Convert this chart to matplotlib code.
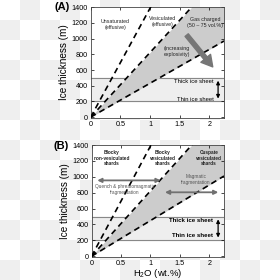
"""Ice thickness vs. magma H2O content, panels A and B"""
import numpy as np
import matplotlib
matplotlib.use("Agg")
from matplotlib import pyplot as plt

# data
x_ends = [0, 2.25]
unsat_y = [0, 3120]      # upper dashed line (unsaturated / vesiculated boundary)
vesic_y = [0, 1850]      # middle dashed line
gas_y_a = [0, 970]       # lower dashed line, panel A
gas_y_b = [0, 1010]      # lower dashed line, panel B
thin_ice = 200
thick_ice = 500
x_ticks = [0, 0.5, 1, 1.5, 2]
x_tick_labels = ["0", "0.5", "1", "1.5", "2"]
y_ticks = [0, 200, 400, 600, 800, 1000, 1200, 1400]

plt.rcParams["font.family"] = ["Liberation Sans", "DejaVu Sans"]
plt.rcParams["mathtext.fontset"] = "custom"
plt.rcParams["mathtext.rm"] = "Liberation Sans"

fig = plt.figure(figsize=(2.8, 2.8), dpi=100)

# checkerboard backdrop
bg = fig.add_axes([0, 0, 1, 1], zorder=-5)
cells = np.indices((14, 14)).sum(axis=0) % 2
bg.imshow(cells, cmap=matplotlib.colors.ListedColormap(["#ffffff", "#efefef"]),
          extent=(0, 1, 0, 1), aspect="auto", interpolation="nearest")
bg.axis("off")


def base_panel(rect, gas_y):
    ax = fig.add_axes(rect)
    ax.set_facecolor("white")
    ax.set_xlim(0, 2.25)
    ax.set_ylim(-10, 1400)
    ax.axhspan(thin_ice, thick_ice, color="#eeeeee", zorder=0)
    ax.axhline(thin_ice, color="#888888", lw=0.8, zorder=1)
    ax.axhline(thick_ice, color="#888888", lw=0.8, zorder=1)
    ax.fill_between(x_ends, vesic_y, gas_y, color="#cccccc", lw=0, zorder=1)
    for ys in (unsat_y, vesic_y, gas_y):
        ax.plot(x_ends, ys, color="black", lw=1.2, dashes=(3.5, 2.5), zorder=3)
    ax.set_xticks(x_ticks)
    ax.set_xticklabels(x_tick_labels)
    ax.set_yticks(y_ticks)
    ax.tick_params(direction="in", length=2, width=0.5, labelsize=5.2,
                   top=True, right=True, pad=2)
    ax.set_ylabel("Ice thickness (m)", fontsize=7.2, labelpad=2)
    for s in ax.spines.values():
        s.set_linewidth(0.6)
        s.set_color("#444444")
    # ice sheet double arrow
    ax.annotate("", xy=(2.15, thin_ice), xytext=(2.15, thick_ice),
                arrowprops=dict(arrowstyle="<|-|>", color="black", lw=0.9,
                                mutation_scale=5), zorder=4)
    return ax


# Panel A
ax_a = base_panel([0.324, 0.579, 0.476, 0.395], gas_y_a)
txt = dict(fontsize=3.8, ha="center", va="center", color="#222222", zorder=5)
ax_a.text(0.42, 1180, "Unsaturated\n(effusive)", **txt)
ax_a.text(1.22, 1220, "Vesiculated\n(effusive)", **txt)
ax_a.text(1.93, 1210, "Gas charged\n(50 – 75 vol.%)", **txt)
ax_a.text(1.46, 840, "(increasing\nexplosivity)", **txt)
ax_a.annotate("", xy=(2.06, 640), xytext=(1.62, 1045),
              arrowprops=dict(facecolor="#767676", edgecolor="#767676",
                              width=3, headwidth=9, headlength=8), zorder=5)
ax_a.text(2.08, 455, "Thick ice sheet", fontsize=4.2, ha="right",
          va="center", zorder=5)
ax_a.text(2.08, 228, "Thin ice sheet", fontsize=4.2, ha="right",
          va="center", zorder=5)
fig.text(0.25, 1 - 7.5 / 280, "(A)", fontsize=8, fontweight="bold",
         ha="right", va="center")

# Panel B
ax_b = base_panel([0.327, 0.082, 0.473, 0.4], gas_y_b)
txt_b = dict(fontsize=3.4, ha="center", va="center", color="#222222",
             fontweight="bold", zorder=5)
ax_b.text(0.34, 1235, "Blocky\nnon-vesiculated\nshards", **txt_b)
ax_b.text(1.21, 1235, "Blocky\nvesiculated\nshards", **txt_b)
ax_b.text(1.99, 1235, "Cuspate\nvesiculated\nshards", **txt_b)
gray_arrow = dict(arrowstyle="<|-|>", color="#707070", lw=1.3,
                  mutation_scale=6)
ax_b.annotate("", xy=(0.05, 955), xytext=(1.22, 955), arrowprops=gray_arrow,
              zorder=5)
ax_b.annotate("", xy=(1.2, 805), xytext=(2.2, 805), arrowprops=gray_arrow,
              zorder=5)
gtxt = dict(fontsize=3.4, ha="center", va="center", color="#555555", zorder=5)
ax_b.text(0.56, 840, "Quench & phreatomagmatic\nfragmentation", **gtxt)
ax_b.text(1.77, 965, "Magmatic\nfragmentation", **gtxt)
ax_b.text(2.07, 450, "Thick ice sheet", fontsize=4.4, fontweight="bold",
          ha="right", va="center", zorder=5)
ax_b.text(2.07, 255, "Thin ice sheet", fontsize=4.4, fontweight="bold",
          ha="right", va="center", zorder=5)
ax_b.set_xlabel("H$_2$O (wt.%)", fontsize=6.8, labelpad=0)
fig.text(0.247, 1 - 146 / 280, "(B)", fontsize=8, fontweight="bold",
         ha="right", va="center")

fig.savefig("out.png", dpi=100)
